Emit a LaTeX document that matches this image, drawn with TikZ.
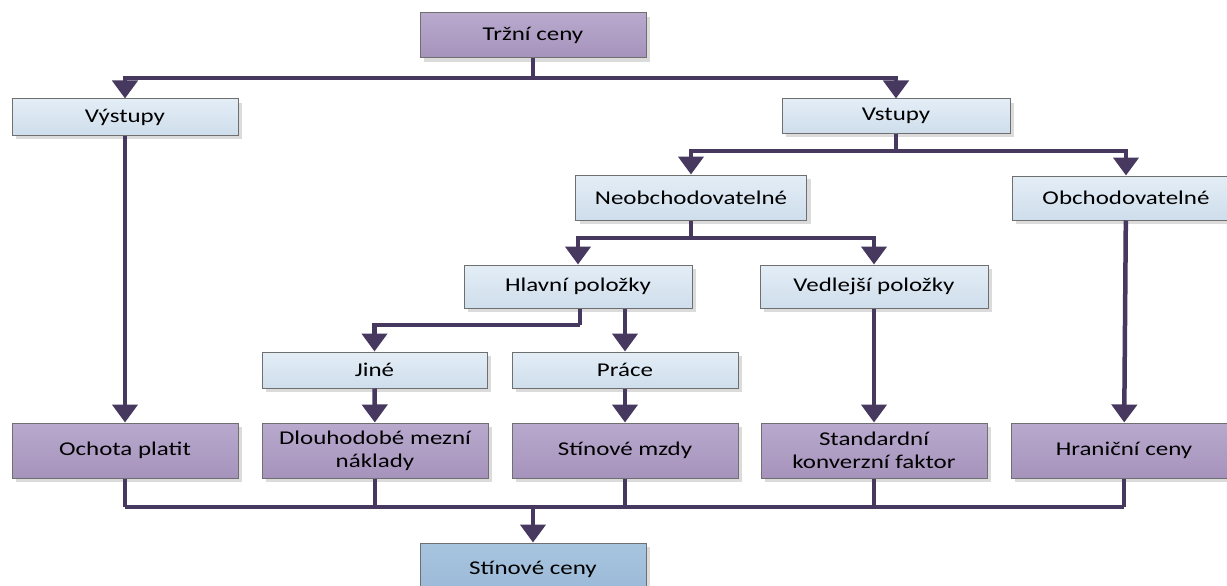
\documentclass[tikz,border=0pt]{standalone}
\usepackage{fontspec}
\setmainfont{Carlito}[FakeStretch=1.28]
\usetikzlibrary{arrows.meta,shadows,calc}
\definecolor{conn}{HTML}{46385E}
\definecolor{purT}{HTML}{B8A9CD}
\definecolor{purB}{HTML}{A693BC}
\definecolor{bluT}{HTML}{E3EDF6}
\definecolor{bluB}{HTML}{CFDEEC}
\definecolor{stT}{HTML}{A7C4DF}
\definecolor{stB}{HTML}{9BB9D7}
\definecolor{bord}{HTML}{6F6F6F}
\tikzset{
  base/.style={rectangle, draw=bord, line width=1pt, align=center, inner sep=0pt,
    font=\fontsize{19.5}{23}\selectfont, text=black,
    drop shadow={shadow xshift=4pt, shadow yshift=-4pt, fill=black!14, opacity=1}},
  purbox/.style={base, top color=purT, bottom color=purB},
  blubox/.style={base, top color=bluT, bottom color=bluB},
  stbox/.style={base, top color=stT, bottom color=stB},
  line/.style={draw=conn, line width=4.5pt},
  arr/.style={line, -{Triangle[width=25pt,length=18pt]}}
}
\begin{document}
\begin{tikzpicture}[x=1pt,y=-1pt]
\useasboundingbox (0,0) rectangle (1227,586);
\clip (0,0) rectangle (1227,586);
\fill[white] (0,0) rectangle (1227,586);
% nodes
\node[purbox, minimum width=226pt, minimum height=45pt] (trzni) at (533,35.5) {Tržní ceny};
\node[blubox, minimum width=226pt, minimum height=36pt] (vystupy) at (125,117) {Výstupy};
\node[blubox, minimum width=228pt, minimum height=34pt] (vstupy) at (896,116) {Vstupy};
\node[blubox, minimum width=231pt, minimum height=45pt] (neob) at (691,197.5) {Neobchodovatelné};
\node[blubox, minimum width=228pt, minimum height=44pt] (obch) at (1126,198) {Obchodovatelné};
\node[blubox, minimum width=228pt, minimum height=43pt] (hlavni) at (578,286.5) {Hlavní položky};
\node[blubox, minimum width=228pt, minimum height=43pt] (vedl) at (874,286.5) {Vedlejší položky};
\node[blubox, minimum width=225pt, minimum height=36pt] (jine) at (374.5,370) {Jiné};
\node[blubox, minimum width=226pt, minimum height=36pt] (prace) at (625,370) {Práce};
\node[purbox, minimum width=226pt, minimum height=55pt] (ochota) at (125,450.5) {Ochota platit};
\node[purbox, minimum width=226pt, minimum height=55pt] (dlouho) at (375,450.5) {Dlouhodobé mezní\\náklady};
\node[purbox, minimum width=226pt, minimum height=55pt] (mzdy) at (625,450.5) {Stínové mzdy};
\node[purbox, minimum width=226pt, minimum height=55pt] (std) at (874,450.5) {Standardní\\konverzní faktor};
\node[purbox, minimum width=226pt, minimum height=55pt] (hran) at (1124,450.5) {Hraniční ceny};
\node[stbox, minimum width=226pt, minimum height=52pt] (stin) at (533,569) {Stínové ceny};
% junction levels
\coordinate (y1) at (0,78);
\coordinate (y2) at (0,151);
\coordinate (y3) at (0,238);
\coordinate (y4) at (0,325);
\coordinate (y5) at (0,507);
% connectors
\draw[line] (trzni.south) -- (trzni.south |- y1);
\draw[arr] (trzni.south |- y1) -| (vystupy);
\draw[arr] (trzni.south |- y1) -| (vstupy);
\draw[line] (vstupy.south) -- (vstupy.south |- y2);
\draw[arr] (vstupy.south |- y2) -| (neob);
\draw[arr] (vstupy.south |- y2) -| (obch);
\draw[line] (neob.south) -- (neob.south |- y3);
\draw[arr] (neob.south |- y3) -| (hlavni);
\draw[arr] (neob.south |- y3) -| (vedl);
\draw[line] ([xshift=2pt]hlavni.south) -- ([xshift=2pt]hlavni.south |- y4);
\draw[arr] ([xshift=2pt]hlavni.south |- y4) -| (jine);
\draw[arr] (hlavni.south -| prace) -- (prace);
\draw[arr] (vystupy) -- (ochota);
\draw[arr] (jine) -- (dlouho);
\draw[arr] (prace) -- (mzdy);
\draw[arr] (vedl) -- (std);
\draw[arr] (obch) -- (hran);
\draw[line] (ochota.south) -- (ochota.south |- y5);
\draw[line] (dlouho.south) -- (dlouho.south |- y5);
\draw[line] (mzdy.south) -- (mzdy.south |- y5);
\draw[line] (std.south) -- (std.south |- y5);
\draw[line] (hran.south) -- (hran.south |- y5);
\draw[line] (ochota.south |- y5) -- (hran.south |- y5);
\draw[arr] (stin.north |- y5) -- (stin);
\end{tikzpicture}
\end{document}
